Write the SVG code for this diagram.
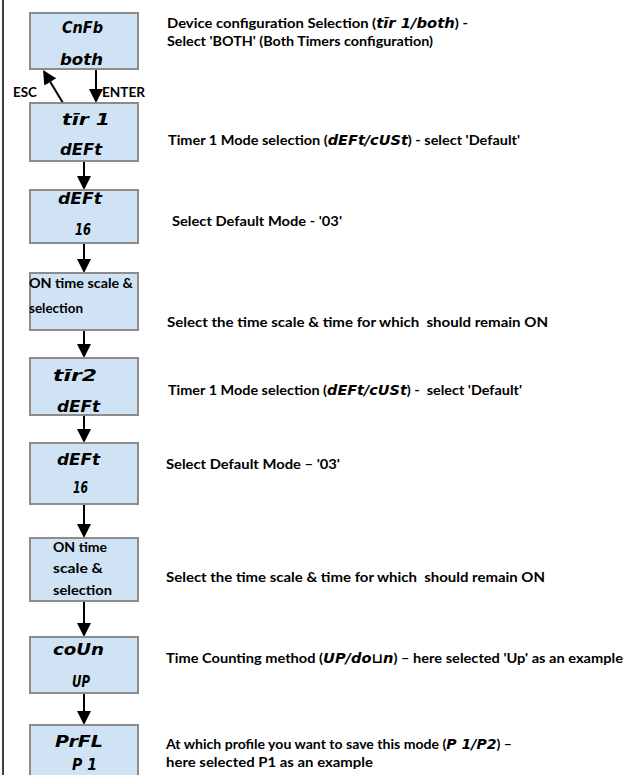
<svg xmlns="http://www.w3.org/2000/svg" width="626" height="775" viewBox="0 0 626 775">
<style>
.box{fill:#cfe3f4;stroke:#8c8c8c;stroke-width:2}
.seg{font-family:"DejaVu Sans","Liberation Sans",sans-serif;font-weight:bold;font-style:italic;font-size:15px;fill:#000}
.lbl{font-family:Lato,"Liberation Sans",sans-serif;font-weight:bold;font-size:13px;fill:#000}
.desc{font-family:Lato,"Liberation Sans",sans-serif;font-weight:bold;font-size:14px;fill:#000;white-space:pre}
.iseg{font-family:"DejaVu Sans","Liberation Sans",sans-serif;font-style:italic;font-weight:bold}
.con{stroke:#000;stroke-width:2;fill:none;marker-end:url(#ah)}
</style>
<defs>
<marker id="ah" viewBox="0 0 14 14" refX="11" refY="7" markerWidth="14" markerHeight="14" markerUnits="userSpaceOnUse" orient="auto">
<path d="M0,0 L14,7 L0,14 z" fill="#000"/>
</marker>
</defs>
<rect width="626" height="775" fill="#fff"/>
<line x1="3" y1="0" x2="3" y2="775" stroke="#000" stroke-width="1.5"/>

<g id="connectors">
<line class="con" x1="63" y1="103" x2="44.6" y2="72.6"/>
<line class="con" x1="96" y1="69" x2="96" y2="100"/>
<line class="con" x1="84" y1="161" x2="84" y2="187"/>
<line class="con" x1="84" y1="243" x2="84" y2="270"/>
<line class="con" x1="84" y1="330" x2="84" y2="355"/>
<line class="con" x1="84" y1="415" x2="84" y2="440"/>
<line class="con" x1="84" y1="504" x2="84" y2="535"/>
<line class="con" x1="84" y1="601" x2="84" y2="634"/>
<line class="con" x1="84" y1="693" x2="84" y2="722"/>
<text class="lbl" x="13" y="97" textLength="24" lengthAdjust="spacingAndGlyphs">ESC</text>
<text class="lbl" x="102" y="97" textLength="43" lengthAdjust="spacingAndGlyphs">ENTER</text>
</g>

<g id="n1">
<rect class="box" x="30" y="13" width="108" height="56"/>
<text class="seg" x="62" y="33" textLength="41" lengthAdjust="spacingAndGlyphs">CnFb</text>
<text class="seg" x="60" y="65" textLength="43" lengthAdjust="spacingAndGlyphs">both</text>
</g>
<g id="n2">
<rect class="box" x="30" y="103" width="108" height="58"/>
<text class="seg" x="62" y="125" textLength="48" lengthAdjust="spacingAndGlyphs">tīr 1</text>
<text class="seg" x="60" y="155" textLength="42" lengthAdjust="spacingAndGlyphs">dEFt</text>
</g>
<g id="n3">
<rect class="box" x="30" y="190" width="108" height="53"/>
<text class="seg" x="58" y="204" textLength="44" lengthAdjust="spacingAndGlyphs">dEFt</text>
<text class="seg" x="75" y="235" textLength="16" lengthAdjust="spacingAndGlyphs">16</text>
</g>
<g id="n4">
<rect class="box" x="30" y="273" width="108" height="57"/>
<text class="lbl" x="29" y="288" textLength="104" lengthAdjust="spacingAndGlyphs">ON time scale &amp;</text>
<text class="lbl" x="29" y="313" textLength="54" lengthAdjust="spacingAndGlyphs">selection</text>
</g>
<g id="n5">
<rect class="box" x="30" y="358" width="108" height="57"/>
<text class="seg" x="53" y="381" textLength="44" lengthAdjust="spacingAndGlyphs">tīr2</text>
<text class="seg" x="57" y="412" textLength="43" lengthAdjust="spacingAndGlyphs">dEFt</text>
</g>
<g id="n6">
<rect class="box" x="30" y="443" width="108" height="61"/>
<text class="seg" x="57" y="465" textLength="43" lengthAdjust="spacingAndGlyphs">dEFt</text>
<text class="seg" x="73" y="493" textLength="15" lengthAdjust="spacingAndGlyphs">16</text>
</g>
<g id="n7">
<rect class="box" x="30" y="538" width="108" height="63"/>
<text class="lbl" x="53" y="552" textLength="54" lengthAdjust="spacingAndGlyphs">ON time</text>
<text class="lbl" x="53" y="573" textLength="50" lengthAdjust="spacingAndGlyphs">scale &amp;</text>
<text class="lbl" x="53" y="595" textLength="59" lengthAdjust="spacingAndGlyphs">selection</text>
</g>
<g id="n8">
<rect class="box" x="30" y="637" width="108" height="56"/>
<text class="seg" x="53" y="655" textLength="51" lengthAdjust="spacingAndGlyphs">coUn</text>
<text class="seg" x="72" y="687" textLength="18" lengthAdjust="spacingAndGlyphs">UP</text>
</g>
<g id="n9">
<rect class="box" x="30" y="725" width="108" height="60"/>
<text class="seg" x="55" y="747" textLength="48" lengthAdjust="spacingAndGlyphs">PrFL</text>
<text class="seg" x="72" y="770" textLength="25" lengthAdjust="spacingAndGlyphs">P 1</text>
</g>

<g id="descriptions">
<text class="desc" x="167" y="28" textLength="301" lengthAdjust="spacingAndGlyphs">Device configuration Selection (<tspan class="iseg">tīr 1/both</tspan>) -</text>
<text class="desc" x="167" y="46" textLength="266" lengthAdjust="spacingAndGlyphs">Select 'BOTH' (Both Timers configuration)</text>
<text class="desc" x="168" y="145" textLength="352" lengthAdjust="spacingAndGlyphs">Timer 1 Mode selection (<tspan class="iseg">dEFt/cUSt</tspan>) - select 'Default'</text>
<text class="desc" x="172" y="226" textLength="170" lengthAdjust="spacingAndGlyphs">Select Default Mode - '03'</text>
<text class="desc" x="167" y="327" textLength="381" lengthAdjust="spacingAndGlyphs">Select the time scale &amp; time for which  should remain ON</text>
<text class="desc" x="168" y="395" textLength="354" lengthAdjust="spacingAndGlyphs">Timer 1 Mode selection (<tspan class="iseg">dEFt/cUSt</tspan>) -  select 'Default'</text>
<text class="desc" x="166" y="469" textLength="174" lengthAdjust="spacingAndGlyphs">Select Default Mode – '03'</text>
<text class="desc" x="166" y="582" textLength="379" lengthAdjust="spacingAndGlyphs">Select the time scale &amp; time for which  should remain ON</text>
<text class="desc" x="166" y="663" textLength="457" lengthAdjust="spacingAndGlyphs">Time Counting method (<tspan class="iseg">UP/do⊔n</tspan>) – here selected 'Up' as an example</text>
<text class="desc" x="166" y="749" textLength="346" lengthAdjust="spacingAndGlyphs">At which profile you want to save this mode (<tspan class="iseg">P 1/P2</tspan>) –</text>
<text class="desc" x="166" y="767" textLength="207" lengthAdjust="spacingAndGlyphs">here selected P1 as an example</text>
</g>
</svg>
